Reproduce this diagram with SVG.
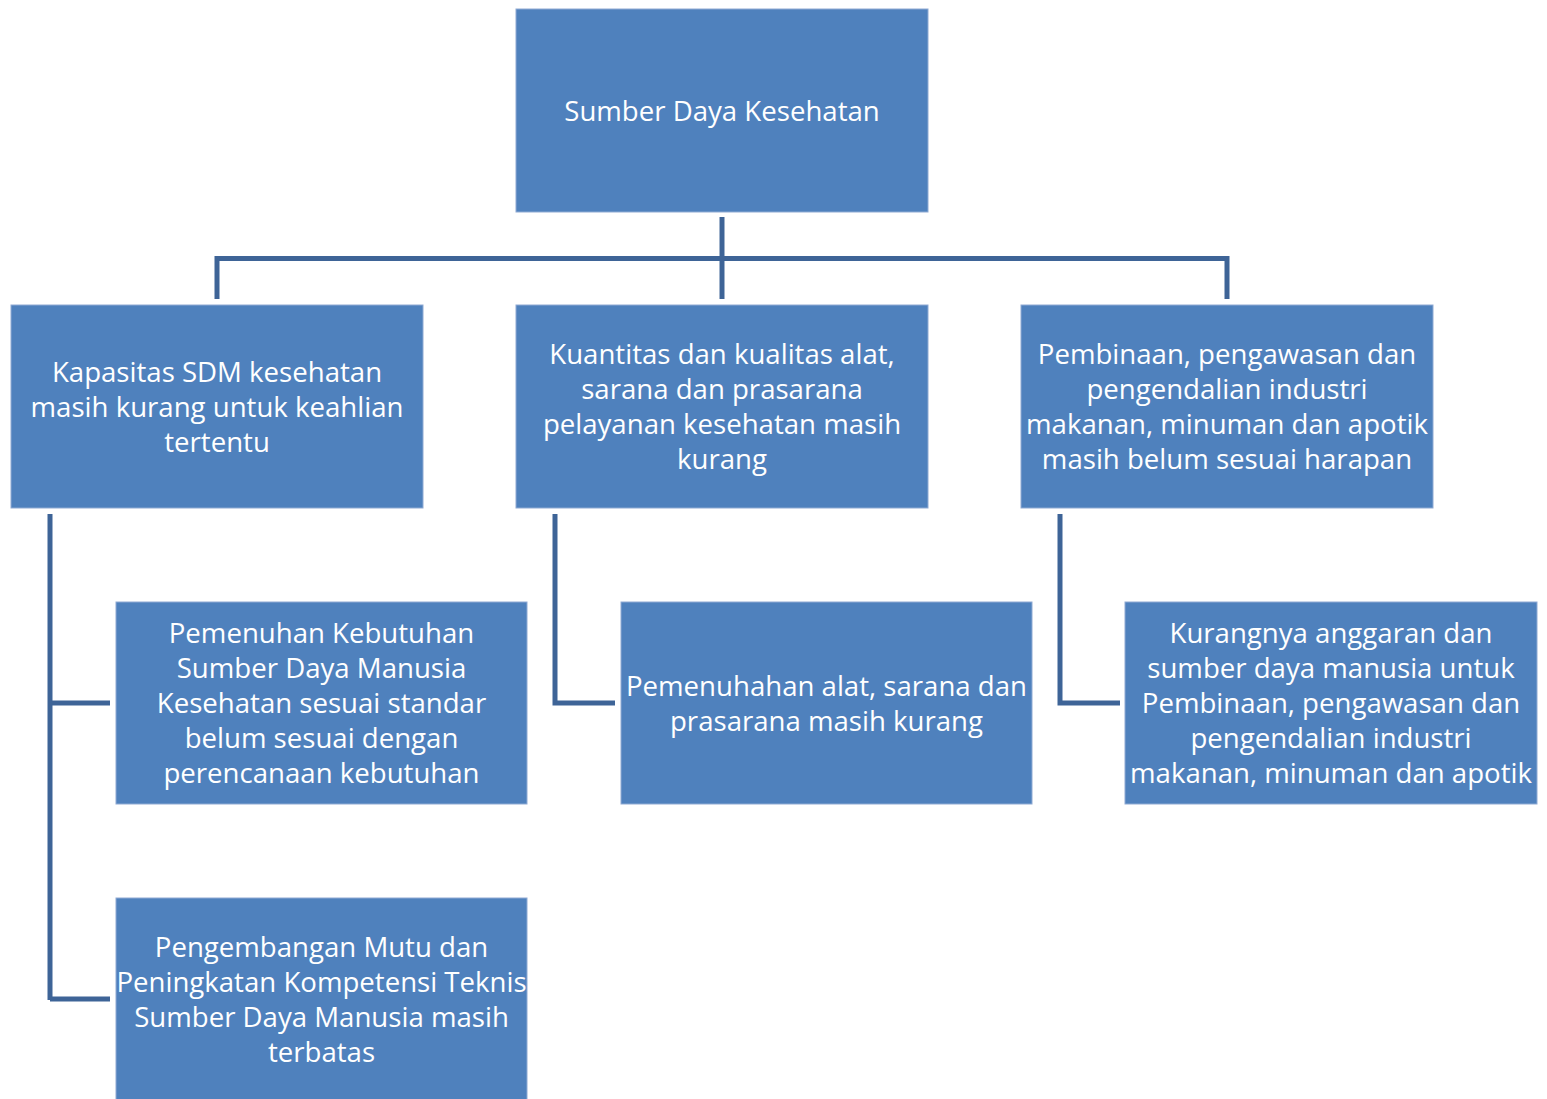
<svg xmlns="http://www.w3.org/2000/svg" width="1547" height="1099" viewBox="0 0 1547 1099">
<style>
.box{fill:#4F81BD;stroke:#8FAAD3;stroke-width:1}
.t{font-family:"Open Sans","Noto Sans",sans-serif;font-size:27.6px;fill:#FFFFFF;text-anchor:middle}
.c{fill:none;stroke:#3E6497;stroke-width:5}
</style>
<rect width="1547" height="1099" fill="#FFFFFF"/>
<g id="connectors">
<path class="c" d="M722,217 V299"/>
<path class="c" d="M217,299 V258.5 H1227 V299"/>
<path class="c" d="M50,514 V1000 M50,703 H110 M50,999 H110"/>
<path class="c" d="M555,514 V703 H615"/>
<path class="c" d="M1060,514 V703 H1120"/>
</g>
<g id="n0"><rect class="box" x="516" y="9" width="412" height="203"/>
<text class="t" x="722" y="121">Sumber Daya Kesehatan</text></g>
<g id="n1"><rect class="box" x="11" y="305" width="412" height="203"/>
<text class="t" x="217"><tspan x="217" y="382">Kapasitas SDM kesehatan</tspan><tspan x="217" y="417">masih kurang untuk keahlian</tspan><tspan x="217" y="452">tertentu</tspan></text></g>
<g id="n2"><rect class="box" x="516" y="305" width="412" height="203"/>
<text class="t"><tspan x="722" y="364">Kuantitas dan kualitas alat,</tspan><tspan x="722" y="399">sarana dan prasarana</tspan><tspan x="722" y="434">pelayanan kesehatan masih</tspan><tspan x="722" y="469">kurang</tspan></text></g>
<g id="n3"><rect class="box" x="1021" y="305" width="412" height="203"/>
<text class="t"><tspan x="1227" y="364">Pembinaan, pengawasan dan</tspan><tspan x="1227" y="399">pengendalian industri</tspan><tspan x="1227" y="434">makanan, minuman dan apotik</tspan><tspan x="1227" y="469">masih belum sesuai harapan</tspan></text></g>
<g id="n4"><rect class="box" x="116" y="602" width="411" height="202"/>
<text class="t"><tspan x="321.5" y="643">Pemenuhan Kebutuhan</tspan><tspan x="321.5" y="678">Sumber Daya Manusia</tspan><tspan x="321.5" y="713">Kesehatan sesuai standar</tspan><tspan x="321.5" y="748">belum sesuai dengan</tspan><tspan x="321.5" y="783">perencanaan kebutuhan</tspan></text></g>
<g id="n5"><rect class="box" x="621" y="602" width="411" height="202"/>
<text class="t"><tspan x="826.5" y="696">Pemenuhahan alat, sarana dan</tspan><tspan x="826.5" y="731">prasarana masih kurang</tspan></text></g>
<g id="n6"><rect class="box" x="1125" y="602" width="412" height="202"/>
<text class="t"><tspan x="1331" y="643">Kurangnya anggaran dan</tspan><tspan x="1331" y="678">sumber daya manusia untuk</tspan><tspan x="1331" y="713">Pembinaan, pengawasan dan</tspan><tspan x="1331" y="748">pengendalian industri</tspan><tspan x="1331" y="783">makanan, minuman dan apotik</tspan></text></g>
<g id="n7"><rect class="box" x="116" y="898" width="411" height="210"/>
<text class="t"><tspan x="321.5" y="957">Pengembangan Mutu dan</tspan><tspan x="321.5" y="992">Peningkatan Kompetensi Teknis</tspan><tspan x="321.5" y="1027">Sumber Daya Manusia masih</tspan><tspan x="321.5" y="1062">terbatas</tspan></text></g>
</svg>
